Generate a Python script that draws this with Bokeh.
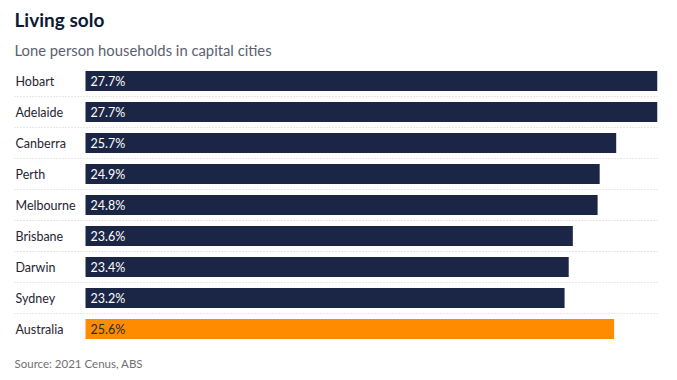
from bokeh.plotting import figure
from bokeh.models import Range1d, Title, ColumnDataSource
from bokeh.core.properties import value
from bokeh.embed import file_html
from bokeh.resources import INLINE

cities = ["Hobart", "Adelaide", "Canberra", "Perth", "Melbourne",
          "Brisbane", "Darwin", "Sydney", "Australia"]
shares = [27.7, 27.7, 25.7, 24.9, 24.8, 23.6, 23.4, 23.2, 25.6]
share_labels = ["27.7%", "27.7%", "25.7%", "24.9%", "24.8%",
                "23.6%", "23.4%", "23.2%", "25.6%"]
highlight = "Australia"

NAVY = "#1b2646"
ORANGE = "#ff8c00"
FONT = "Lato"

W, H = 670, 380
BORDER_L, BORDER_R, BORDER_T, BORDER_B = 14, 13, 65, 36
GUTTER = 71  # px reserved for the category labels inside the frame
frame_w = W - BORDER_L - BORDER_R
x_max = max(shares)
x_min = -x_max * GUTTER / (frame_w - GUTTER)

n = len(cities)
rows = list(range(n))
bar_colors = [ORANGE if c == highlight else NAVY for c in cities]
label_colors = ["#2a2a2a" if c == highlight else "white" for c in cities]

src = ColumnDataSource(dict(
    y=rows, city=cities, share=shares, lab=share_labels,
    bar_color=bar_colors, lab_color=label_colors,
    xl=[x_min] * n,
))

p = figure(width=W, height=H, x_range=Range1d(x_min, x_max),
           y_range=Range1d(n - 0.5, -0.5),
           x_axis_location=None, y_axis_location=None,
           output_backend="svg", toolbar_location=None,
           min_border_left=BORDER_L, min_border_right=BORDER_R,
           min_border_top=BORDER_T, min_border_bottom=BORDER_B)
p.grid.visible = False
p.outline_line_color = None
p.background_fill_color = "white"
p.border_fill_color = "white"

# dotted separators between rows
sep_y = [r + 0.5 for r in rows[:-1]]
p.segment(x0=[x_min] * len(sep_y), x1=[x_max] * len(sep_y), y0=sep_y, y1=sep_y,
          line_color="#d0d0d0", line_width=1, line_dash="1 2")

p.hbar(y="y", left=0, right="share", height=20 / 31, fill_color="bar_color",
       line_color=None, source=src)

p.text(x=0, y="y", text="lab", x_offset=5, text_align="left",
       text_baseline="middle", text_color="lab_color",
       text_font=value(FONT), text_font_size="12.5px", source=src)

p.text(x="xl", y="y", text="city", x_offset=1, text_align="left",
       text_baseline="middle", text_color="#1f2433",
       text_font=value(FONT), text_font_size="12.5px", source=src)

p.title.text = ""
p.add_layout(Title(text="Lone person households in capital cities",
                   text_font=FONT, text_font_size="14.8px",
                   text_font_style="normal", text_color="#5a6070",
                   align="left", offset=0, standoff=14), "above")
p.add_layout(Title(text="Living solo", text_font=FONT,
                   text_font_size="19px", text_font_style="bold",
                   text_color="#0d1a33", align="left", offset=0,
                   standoff=2), "above")
p.add_layout(Title(text="Source: 2021 Cenus, ABS", text_font=FONT,
                   text_font_size="11.5px", text_font_style="normal",
                   text_color="#707070", align="left", offset=0,
                   standoff=21), "below")

open("out.html", "w").write(file_html(p, INLINE))
